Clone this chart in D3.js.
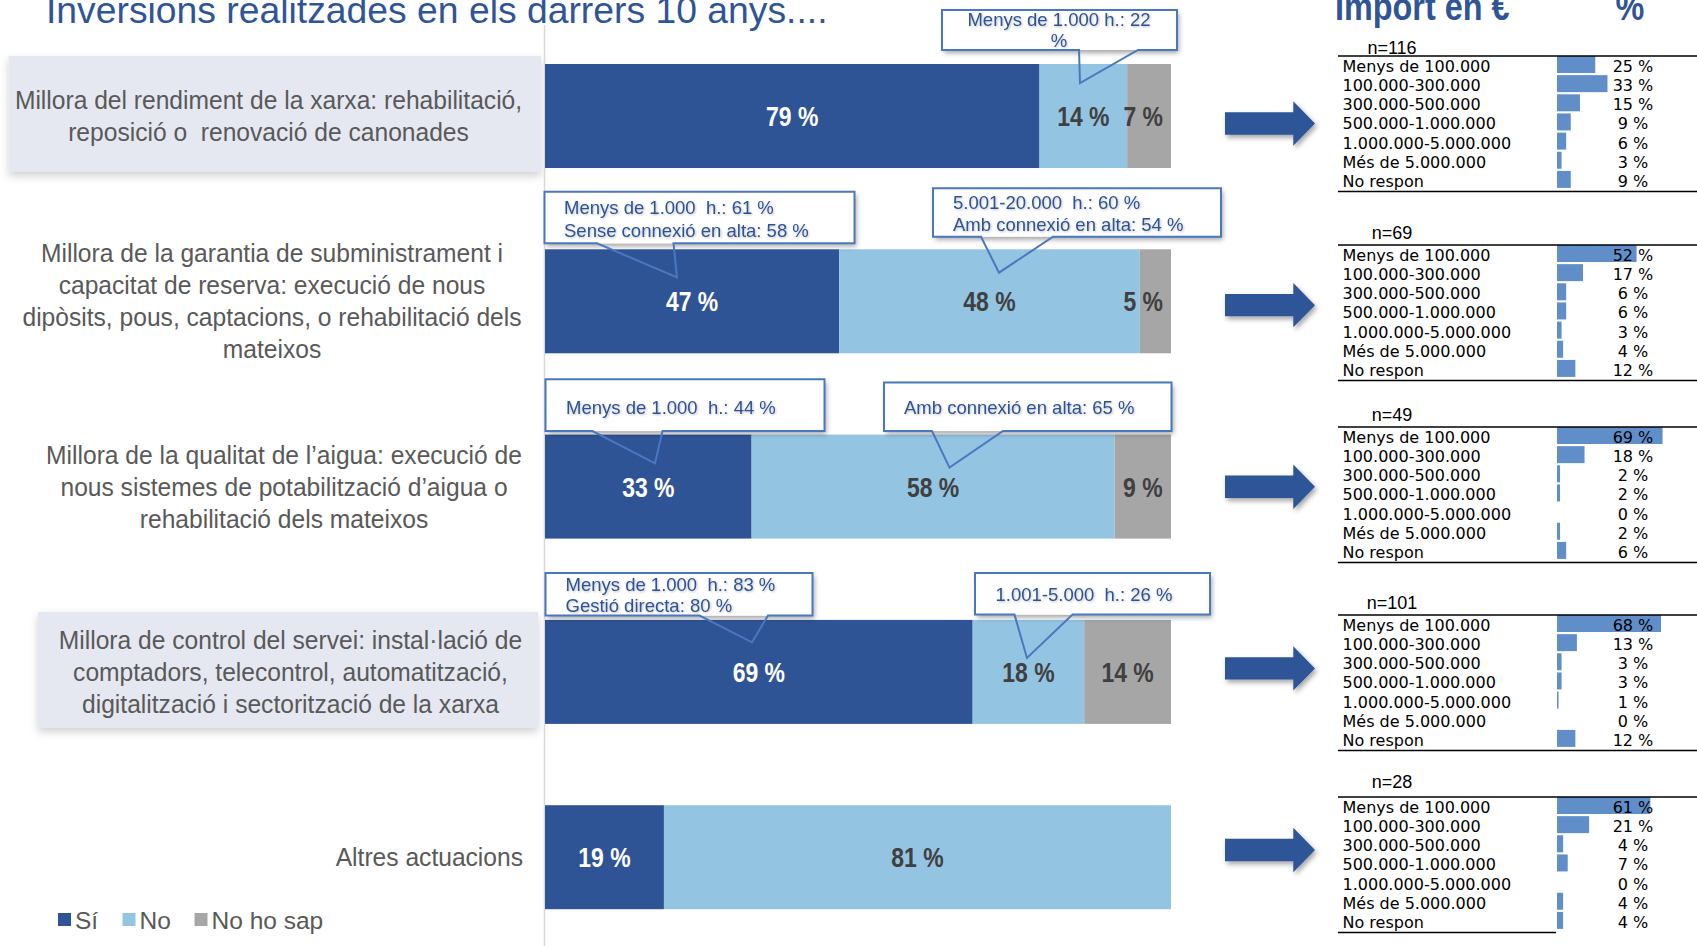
<!DOCTYPE html>
<html><head><meta charset="utf-8">
<script src="https://cdn.jsdelivr.net/npm/d3@7"></script>
<style>body{margin:0;background:#fff;overflow:hidden} svg{display:block} text{white-space:pre}</style>
</head><body>
<svg id="chart" width="1697" height="946"></svg>
<script>
// ---------------- DATA ----------------
const title = "Inversions realitzades en els darrers 10 anys....";
const categories = ["rendiment", "garantia", "qualitat", "control", "altres"];
const categoryLines = [
  ["Millora del rendiment de la xarxa: rehabilitació,", "reposició o  renovació de canonades"],
  ["Millora de la garantia de subministrament i", "capacitat de reserva: execució de nous", "dipòsits, pous, captacions, o rehabilitació dels", "mateixos"],
  ["Millora de la qualitat de l\u2019aigua: execució de", "nous sistemes de potabilització d\u2019aigua o", "rehabilitació dels mateixos"],
  ["Millora de control del servei: instal·lació de", "comptadors, telecontrol, automatització,", "digitalització i sectorització de la xarxa"],
  ["Altres actuacions"]
];
const seriesNames = ["Sí", "No", "No ho sap"];
const valuesSi = [79, 47, 33, 69, 19];
const valuesNo = [14, 48, 58, 18, 81];
const valuesNoHoSap = [7, 5, 9, 14, 0];

const calloutRow = [0, 1, 1, 2, 2, 3, 3];
const calloutText = [
  ["Menys de 1.000 h.: 22", "%"],
  ["Menys de 1.000  h.: 61 %", "Sense connexió en alta: 58 %"],
  ["5.001-20.000  h.: 60 %", "Amb connexió en alta: 54 %"],
  ["Menys de 1.000  h.: 44 %"],
  ["Amb connexió en alta: 65 %"],
  ["Menys de 1.000  h.: 83 %", "Gestió directa: 80 %"],
  ["1.001-5.000  h.: 26 %"]
];

const importTitle = "Import en €";
const importRanges = ["Menys de 100.000", "100.000-300.000", "300.000-500.000", "500.000-1.000.000", "1.000.000-5.000.000", "Més de 5.000.000", "No respon"];
const importN = [116, 69, 49, 101, 28];
const importRendiment = [25, 33, 15, 9, 6, 3, 9];
const importGarantia = [52, 17, 6, 6, 3, 4, 12];
const importQualitat = [69, 18, 2, 2, 0, 2, 6];
const importControl = [68, 13, 3, 3, 1, 0, 12];
const importAltres = [61, 21, 4, 7, 0, 4, 4];
const importValues = [importRendiment, importGarantia, importQualitat, importControl, importAltres];

// ---------------- LAYOUT / STYLE ----------------
const W = 1697, H = 946;
const colors = {"Sí": "#2F5496", "No": "#93C4E2", "No ho sap": "#A6A6A6"};
const labelColors = {"Sí": "#FFFFFF", "No": "#404040", "No ho sap": "#404040"};
const blue = "#2F5597";
const grayText = "#595959";
const labelCenterX = [268.5, 272, 284, 290.5, null];
const labelBoxes = [[8.5, 541, 0], [38, 538, 3]]; // [x0,x1,row]
const tableTop = [56, 245, 427, 615, 797];
const nOffset = [-2, -6, -6, -6, -9];
const calloutGeom = [
  {x0: 942, x1: 1177, t: -54, b: -14, p0: 1079, p1: 1138, tx: 1080, ty: 19, textX: 1059, anchor: "middle", base: [-38, -17]},
  {x0: 544.5, x1: 854.5, t: -57.5, b: -6, p0: 597, p1: 673.5, tx: 677, ty: 28, textX: 564, anchor: "start", base: [-35.5, -12.8]},
  {x0: 933, x1: 1221, t: -61, b: -12.6, p0: 981, p1: 1053, tx: 999, ty: 23.4, textX: 953, anchor: "start", base: [-40, -18.6]},
  {x0: 545.5, x1: 824.5, t: -55.3, b: -3.6, p0: 592.5, p1: 662.5, tx: 655, ty: 28.7, textX: 566, anchor: "start", base: [-21]},
  {x0: 884, x1: 1171.5, t: -52, b: -3.6, p0: 932, p1: 1003, tx: 949.5, ty: 33, textX: 904, anchor: "start", base: [-20.3]},
  {x0: 545.5, x1: 812.5, t: -47, b: -4.3, p0: 699.5, p1: 768, tx: 752, ty: 22.4, textX: 565.5, anchor: "start", base: [-29.3, -7.6]},
  {x0: 975, x1: 1210, t: -47, b: -5.3, p0: 1014.5, p1: 1072.5, tx: 1027, ty: 38, textX: 995.5, anchor: "start", base: [-18.6]}
];

const svg = d3.select("#chart");
const defs = svg.append("defs");
function shadow(id, dx, dy, sd, op) {
  const f = defs.append("filter").attr("id", id).attr("x", "-20%").attr("y", "-30%").attr("width", "140%").attr("height", "160%");
  f.append("feDropShadow").attr("dx", dx).attr("dy", dy).attr("stdDeviation", sd).attr("flood-color", "#000").attr("flood-opacity", op);
}
shadow("sh", 2, 3, 2.5, 0.35);
shadow("shSoft", 0, 4, 4, 0.18);
shadow("shText", 1, 1, 1, 0.25);

// scales
const y = d3.scaleBand().domain(categories).range([64, 909.2]).paddingInner(0.4388).paddingOuter(0);
const x = d3.scaleLinear().domain([0, 1]).range([545, 1171]);
const arrowY = d3.scalePoint().domain(categories).range([123.5, 850]);

const rows = categories.map((c, i) => ({cat: c, "Sí": valuesSi[i], "No": valuesNo[i], "No ho sap": valuesNoHoSap[i]}));
const stacked = d3.stack().keys(seriesNames).offset(d3.stackOffsetExpand)(rows);

// ---- left label boxes
labelBoxes.forEach(([x0, x1, r]) => {
  svg.append("rect").attr("x", x0).attr("y", y(categories[r]) - 8).attr("width", x1 - x0).attr("height", y.bandwidth() + 12)
    .attr("fill", "#E5E8F0").attr("filter", "url(#shSoft)");
});

// ---- left labels
const lineH = 32;
const labelSX = 0.965;
categories.forEach((c, i) => {
  const lines = categoryLines[i];
  const cy = y(c) + y.bandwidth() / 2;
  const first = cy + 9 - (lines.length - 1) * lineH / 2;
  const ax = labelCenterX[i] === null ? 523 : labelCenterX[i];
  const g = svg.append("g").attr("transform", `translate(${ax},0) scale(${labelSX},1)`);
  const t = g.append("text").attr("font-family", "Liberation Sans, Arial, sans-serif").attr("font-size", 25.5)
    .attr("fill", grayText).attr("text-anchor", labelCenterX[i] === null ? "end" : "middle");
  lines.forEach((ln, k) => {
    t.append("tspan").attr("x", 0).attr("y", first + k * lineH).text(ln);
  });
});

// ---- separator
svg.append("line").attr("x1", 544.5).attr("x2", 544.5).attr("y1", 25).attr("y2", H).attr("stroke", "#D9D9D9").attr("stroke-width", 1.5);

// ---- stacked bars
const barG = svg.append("g");
stacked.forEach(s => {
  barG.selectAll(null).data(s).join("rect")
    .attr("x", d => x(d[0])).attr("width", d => Math.max(0, x(d[1]) - x(d[0])))
    .attr("y", d => y(d.data.cat)).attr("height", y.bandwidth())
    .attr("fill", colors[s.key]);
});
// bar labels (narrow bold)
stacked.forEach(s => {
  s.forEach(d => {
    const v = d.data[s.key];
    if (!v) return;
    const g = barG.append("g");
    const t = g.append("text").attr("font-family", "Liberation Sans, Arial, sans-serif").attr("font-weight", "bold")
      .attr("font-size", 28).attr("text-anchor", "middle").attr("fill", labelColors[s.key]).text(v + " %");
    const w = t.node().getComputedTextLength() * 0.82;
    let cx = (x(d[0]) + x(d[1])) / 2;
    cx = Math.min(cx, x(1) - w / 2 - 8);
    const cy = y(d.data.cat) + y.bandwidth() / 2 + 10;
    g.attr("transform", `translate(${cx},${cy}) scale(0.82,1)`);
  });
});

// ---- callouts
calloutText.forEach((lines, i) => {
  const g = calloutGeom[i];
  const top = y(categories[calloutRow[i]]);
  svg.append("rect").attr("x", g.x0).attr("y", top + g.t).attr("width", g.x1 - g.x0).attr("height", g.b - g.t)
    .attr("fill", "#fff").attr("filter", "url(#sh)");
  const p = d3.path();
  p.moveTo(g.x0, top + g.t); p.lineTo(g.x1, top + g.t); p.lineTo(g.x1, top + g.b); p.lineTo(g.p1, top + g.b);
  p.lineTo(g.tx, top + g.ty); p.lineTo(g.p0, top + g.b); p.lineTo(g.x0, top + g.b); p.closePath();
  svg.append("path").attr("d", p.toString()).attr("fill", "none").attr("stroke", "#4A78C0").attr("stroke-width", 2).attr("stroke-linejoin", "miter");
  const t = svg.append("text").attr("font-family", "Liberation Sans, Arial, sans-serif").attr("font-size", 18.5)
    .attr("fill", "#2E5395").attr("text-anchor", g.anchor).attr("filter", "url(#shText)");
  lines.forEach((ln, k) => t.append("tspan").attr("x", g.textX).attr("y", top + g.base[k]).text(ln));
});

// ---- arrows
categories.forEach(c => {
  const cy = arrowY(c);
  const p = d3.path();
  p.moveTo(1225, cy - 11.2); p.lineTo(1293.3, cy - 11.2); p.lineTo(1293.3, cy - 22.2); p.lineTo(1315, cy);
  p.lineTo(1293.3, cy + 22.2); p.lineTo(1293.3, cy + 11.2); p.lineTo(1225, cy + 11.2); p.closePath();
  svg.append("path").attr("d", p.toString()).attr("fill", blue).attr("filter", "url(#sh)");
});

// ---- import tables
const hx = d3.scaleLinear().domain([0, 100]).range([0, 153]);
const rowStep = 19.15;
const tableFont = "Verdana, DejaVu Sans, sans-serif";
importValues.forEach((vals, i) => {
  const g = svg.append("g").attr("transform", `translate(0,${tableTop[i]})`);
  g.append("text").attr("x", 1392).attr("y", nOffset[i]).attr("text-anchor", "middle").attr("font-family", "Liberation Sans, Arial, sans-serif")
    .attr("font-size", 18).attr("fill", "#000").text("n=" + importN[i]);
  g.selectAll(null).data(vals).join("rect")
    .attr("x", 1557).attr("y", (d, j) => 16 + j * rowStep - 16).attr("height", 17)
    .attr("width", d => hx(d)).attr("fill", "#608EC9");
  g.selectAll(null).data(importRanges).join("text")
    .attr("x", 1342.5).attr("y", (d, j) => 16 + j * rowStep)
    .attr("font-family", tableFont).attr("font-size", 16).attr("fill", "#000").text(d => d);
  g.selectAll(null).data(vals).join("text")
    .attr("x", 1633).attr("y", (d, j) => 16 + j * rowStep).attr("text-anchor", "middle")
    .attr("font-family", tableFont).attr("font-size", 16).attr("fill", "#000").text(d => d + " %");
  g.append("line").attr("x1", 1338).attr("x2", W).attr("y1", 0).attr("y2", 0).attr("stroke", "#000").attr("stroke-width", 1.5);
  const by = 16 + 6 * rowStep + 4.5;
  g.append("line").attr("x1", 1338).attr("x2", i === importValues.length - 1 ? 1556 : W).attr("y1", by).attr("y2", by)
    .attr("stroke", "#000").attr("stroke-width", 1.5);
});

// ---- headers
svg.append("text").attr("x", 46).attr("y", 23).attr("font-family", "Liberation Sans, Arial, sans-serif").attr("font-size", 37.3)
  .attr("fill", blue).text(title);
const h1 = svg.append("g").attr("transform", "translate(1335,20) scale(0.82,1)");
h1.append("text").attr("font-family", "Liberation Sans, Arial, sans-serif").attr("font-weight", "bold").attr("font-size", 39.5)
  .attr("fill", blue).text(importTitle);
const h2 = svg.append("g").attr("transform", "translate(1630,20) scale(0.82,1)");
h2.append("text").attr("font-family", "Liberation Sans, Arial, sans-serif").attr("font-weight", "bold").attr("font-size", 39.5)
  .attr("text-anchor", "middle").attr("fill", blue).text("%");

// ---- legend
const legX = [58, 122.5, 194.5];
seriesNames.forEach((s, i) => {
  svg.append("rect").attr("x", legX[i]).attr("y", 913).attr("width", 13).attr("height", 13).attr("fill", colors[s]);
  svg.append("text").attr("x", legX[i] + 17).attr("y", 928.5).attr("font-family", "Liberation Sans, Arial, sans-serif")
    .attr("font-size", 24.5).attr("fill", grayText).text(s);
});
</script>
</body></html>
